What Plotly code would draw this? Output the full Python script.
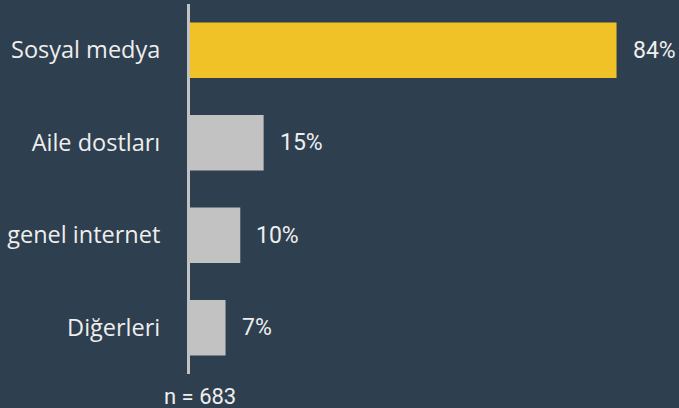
import plotly.graph_objects as go

categories = ["Sosyal medya", "Aile dostları", "genel internet", "Diğerleri"]
values = [84, 14.5, 9.9, 7]
value_labels = ["84%", "15%", "10%", "7%"]
bar_colors = ["#f0c228", "#c2c2c2", "#c2c2c2", "#c2c2c2"]
note = "n = 683"

bg = "#2e3f4f"
txt = "#eeeeee"

fig = go.Figure(go.Bar(
    x=values, y=categories, orientation="h",
    marker=dict(color=bar_colors, line=dict(width=0)),
    width=0.6,
    hoverinfo="x+y",
))

annotations = [
    dict(text=lab, x=v, y=c, xref="x", yref="y", xanchor="left", yanchor="middle",
         xshift=14, showarrow=False,
         font=dict(family="Roboto", size=23, color=txt))
    for c, v, lab in zip(categories, values, value_labels)
]
annotations.append(dict(text=note, x=0, xref="x", y=0, yref="paper", yshift=-22, xshift=10,
                        xanchor="center", yanchor="middle", showarrow=False,
                        font=dict(family="Roboto", size=22, color=txt)))

fig.update_layout(
    width=679, height=408,
    paper_bgcolor=bg, plot_bgcolor=bg,
    margin=dict(l=190, r=0, t=4, b=34),
    showlegend=False,
    xaxis=dict(range=[0, 96.3], visible=False, showgrid=False, zeroline=False),
    yaxis=dict(autorange=False, range=[3.5, -0.5], showgrid=False, zeroline=False,
               showline=True, linecolor="#c2c2c2", linewidth=3,
               ticks="", ticklabelstandoff=22,
               tickfont=dict(family="Open Sans", size=23.5, color=txt)),
    annotations=annotations,
)

fig.write_html("out.html", config={"displayModeBar": False},
               post_script="document.body.style.margin='0px';document.body.style.overflow='hidden';")
